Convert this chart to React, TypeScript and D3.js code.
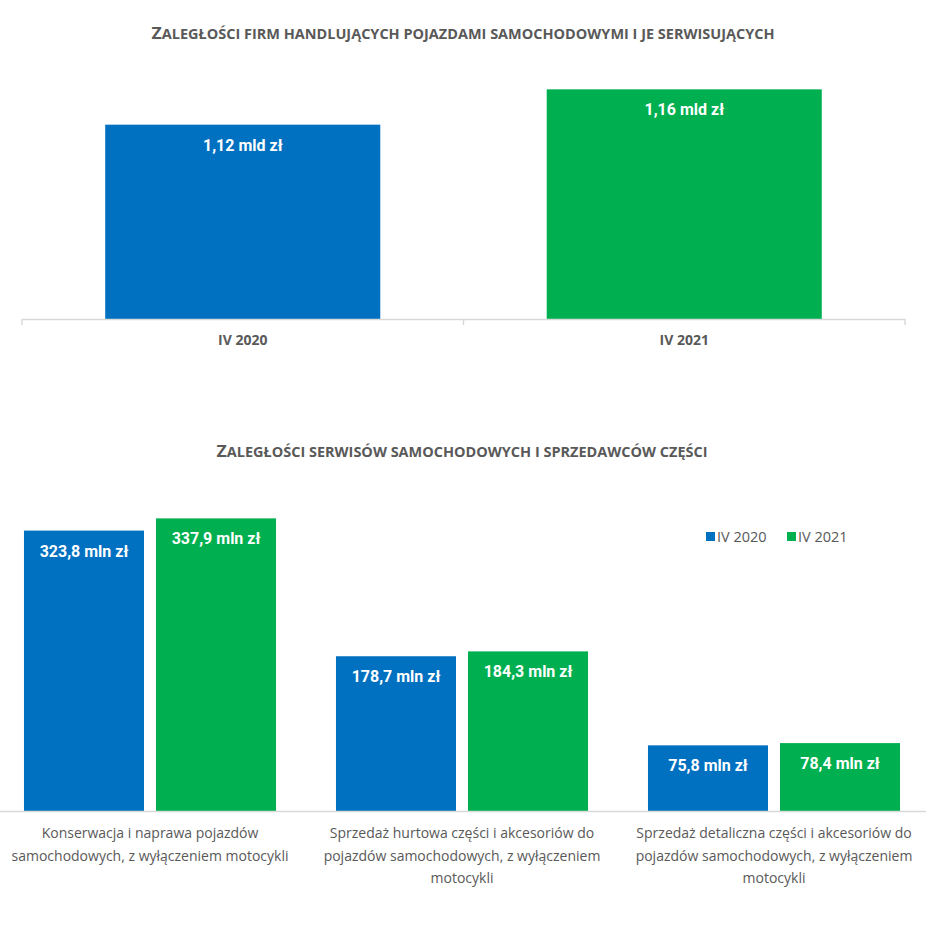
import React, { useRef, useEffect } from 'react';
import * as d3 from 'd3';

// top chart: total arrears
const periods = ['IV 2020', 'IV 2021'];
const totalValues = [1.12, 1.16];
const totalLabels = ['1,12 mld zł', '1,16 mld zł'];

// bottom chart: arrears by branch
const branches = [
  ['Konserwacja i naprawa pojazdów', 'samochodowych, z wyłączeniem motocykli'],
  ['Sprzedaż hurtowa części i akcesoriów do', 'pojazdów samochodowych, z wyłączeniem', 'motocykli'],
  ['Sprzedaż detaliczna części i akcesoriów do', 'pojazdów samochodowych, z wyłączeniem', 'motocykli'],
];
const values2020 = [323.8, 178.7, 75.8];
const values2021 = [337.9, 184.3, 78.4];
const labels2020 = ['323,8 mln zł', '178,7 mln zł', '75,8 mln zł'];
const labels2021 = ['337,9 mln zł', '184,3 mln zł', '78,4 mln zł'];

const title1 = 'Zaległości firm handlujących pojazdami samochodowymi i je serwisujących';
const title2 = 'Zaległości serwisów samochodowych i sprzedawców części';

const colors: Record<string, string> = { 'IV 2020': '#0070C0', 'IV 2021': '#00B050' };
const GREY = '#595959';
const AXIS = '#D9D9D9';
const FONT = '"Open Sans", "Noto Sans", sans-serif';
const LABEL_FONT = 'Roboto, "Open Sans", sans-serif';

// fake small caps: first letter big, rest uppercased smaller
function smallCapsTitle(
  svg: d3.Selection<SVGSVGElement | null, unknown, null, undefined>,
  text: string, cx: number, cy: number, w: number
) {
  const t = svg.append('text')
    .attr('x', cx).attr('y', cy)
    .attr('text-anchor', 'middle')
    .attr('font-family', FONT).attr('font-weight', 'bold')
    .attr('fill', GREY)
    .attr('textLength', w).attr('lengthAdjust', 'spacingAndGlyphs');
  t.append('tspan').attr('font-size', 16.5).text(text.charAt(0));
  t.append('tspan').attr('font-size', 13.5).text(text.slice(1).toUpperCase());
}

const App: React.FC = () => {
  const svgRef = useRef<SVGSVGElement | null>(null);

  useEffect(() => {
    const svg = d3.select(svgRef.current);
    svg.selectAll('*').remove();
    const width = 926;

    // ---------- titles
    smallCapsTitle(svg, title1, 463, 39, 623);
    smallCapsTitle(svg, title2, 462, 457, 491);

    // ---------- top chart
    const base1 = 319;
    const x = d3.scaleBand<string>()
      .domain(periods)
      .range([22, 905])
      .paddingInner(0.377)
      .paddingOuter(0.1885);
    const y = d3.scaleLinear().domain([0.9, 1.2]).range([base1, 54]);

    const top = svg.append('g');
    top.selectAll('rect')
      .data(periods)
      .enter()
      .append('rect')
      .attr('x', d => x(d) || 0)
      .attr('y', (d, i) => y(totalValues[i]))
      .attr('width', x.bandwidth())
      .attr('height', (d, i) => base1 - y(totalValues[i]))
      .attr('fill', d => colors[d]);

    top.selectAll('.val')
      .data(periods)
      .enter()
      .append('text')
      .attr('x', d => (x(d) || 0) + x.bandwidth() / 2)
      .attr('y', (d, i) => y(totalValues[i]) + 26)
      .attr('text-anchor', 'middle')
      .attr('font-family', LABEL_FONT).attr('font-size', 16).attr('font-weight', 'bold')
      .attr('fill', '#fff')
      .text((d, i) => totalLabels[i]);

    // axis line with ticks at category boundaries
    const step = x.step();
    const edges = [22, 22 + step, 22 + 2 * step];
    top.append('line')
      .attr('x1', 22).attr('x2', 905)
      .attr('y1', base1 + 0.5).attr('y2', base1 + 0.5)
      .attr('stroke', AXIS).attr('stroke-width', 1.5);
    top.selectAll('.tick')
      .data(edges)
      .enter()
      .append('line')
      .attr('x1', d => d).attr('x2', d => d)
      .attr('y1', base1).attr('y2', base1 + 6)
      .attr('stroke', AXIS).attr('stroke-width', 1.5);

    top.selectAll('.cat')
      .data(periods)
      .enter()
      .append('text')
      .attr('x', d => (x(d) || 0) + x.bandwidth() / 2)
      .attr('y', 345)
      .attr('text-anchor', 'middle')
      .attr('font-family', FONT).attr('font-size', 14).attr('font-weight', 'bold')
      .attr('fill', GREY)
      .text(d => d);

    // ---------- bottom chart
    const base2 = 811;
    const x0 = d3.scaleBand<number>()
      .domain(d3.range(branches.length))
      .range([-6, 930]);
    const x1 = d3.scaleBand<string>()
      .domain(periods)
      .range([0, x0.bandwidth()])
      .paddingInner(0.0909)
      .paddingOuter(0.227);
    const y2 = d3.scaleLinear().domain([0, 400]).range([base2, base2 - 346.4]);

    const series = [
      { key: 'IV 2020', values: values2020, labels: labels2020 },
      { key: 'IV 2021', values: values2021, labels: labels2021 },
    ];

    const bottom = svg.append('g');
    series.forEach(s => {
      const g = bottom.append('g');
      g.selectAll('rect')
        .data(s.values)
        .enter()
        .append('rect')
        .attr('x', (d, i) => (x0(i) || 0) + (x1(s.key) || 0))
        .attr('y', d => y2(d))
        .attr('width', x1.bandwidth())
        .attr('height', d => base2 - y2(d))
        .attr('fill', colors[s.key]);

      g.selectAll('text')
        .data(s.values)
        .enter()
        .append('text')
        .attr('x', (d, i) => (x0(i) || 0) + (x1(s.key) || 0) + x1.bandwidth() / 2)
        .attr('y', d => y2(d) + 26)
        .attr('text-anchor', 'middle')
        .attr('font-family', LABEL_FONT).attr('font-size', 16).attr('font-weight', 'bold')
        .attr('fill', '#fff')
        .text((d, i) => s.labels[i]);
    });

    bottom.append('line')
      .attr('x1', 0).attr('x2', width)
      .attr('y1', base2 + 0.5).attr('y2', base2 + 0.5)
      .attr('stroke', AXIS).attr('stroke-width', 1.5);

    const cats = bottom.selectAll('.cat')
      .data(branches)
      .enter()
      .append('text')
      .attr('text-anchor', 'middle')
      .attr('font-family', FONT).attr('font-size', 14)
      .attr('fill', GREY);
    cats.selectAll('tspan')
      .data((d, i) => d.map(line => ({ line, i })))
      .enter()
      .append('tspan')
      .attr('x', d => (x0(d.i) || 0) + x0.bandwidth() / 2)
      .attr('y', (d, j) => 838 + j * 22.5)
      .text(d => d.line);

    // legend
    const legend = bottom.append('g');
    const legendX = [706, 787];
    periods.forEach((p, i) => {
      legend.append('rect')
        .attr('x', legendX[i]).attr('y', 532)
        .attr('width', 9).attr('height', 9)
        .attr('fill', colors[p]);
      legend.append('text')
        .attr('x', legendX[i] + 11).attr('y', 542)
        .attr('font-family', FONT).attr('font-size', 14.5)
        .attr('fill', GREY)
        .text(p);
    });
  }, []);

  return (
    <svg ref={svgRef} width={926} height={926} style={{ display: 'block', position: 'absolute', left: 0, top: 0, background: '#fff' }}></svg>
  );
};

export default App;
